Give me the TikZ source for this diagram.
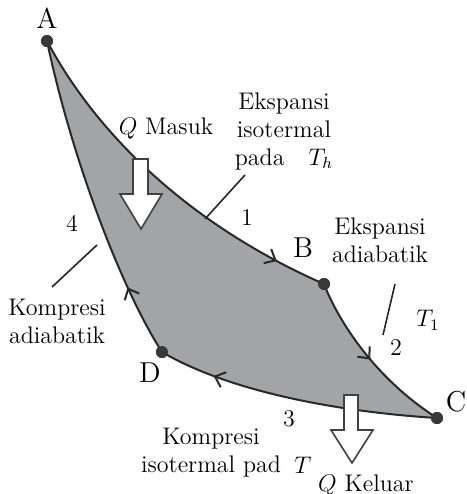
\documentclass[tikz,border=0pt]{standalone}
\usetikzlibrary{arrows.meta,decorations.markings}
\definecolor{ciclo}{RGB}{163,164,168}
\definecolor{borda}{RGB}{40,40,40}
\begin{document}
\begin{tikzpicture}[x=0.5pt,y=-0.5pt]
\tikzset{
    >={Straight Barb[length=4.5pt,width=8pt]},
    curva/.style={line width=1pt, borda},
    sentido/.style={postaction={decorate},
        decoration={markings, mark=at position #1 with {\arrow{>}}}},
    estado/.style={circle, fill=black!78, inner sep=0pt, minimum size=6pt},
    rotulo/.style={font=\large, inner sep=1pt},
    letra/.style={font=\Large, inner sep=1pt},
    indice/.style={font=\large, inner sep=1pt},
    guia/.style={-, line width=0.8pt, black!85},
    bloco/.style={draw=black!75, line width=0.8pt, fill=white, line join=miter}
}
\useasboundingbox (0,0) rectangle (467,494);
% Estados do ciclo
\node[estado] (A) at (47,41)   {};
\node[estado] (B) at (324,284) {};
\node[estado] (C) at (437,418) {};
\node[estado] (D) at (162,352) {};
% Area do ciclo
\fill[ciclo] (A.center) .. controls (97,135) and (190,225) .. (B.center)
    .. controls (336,315) and (370,375) .. (C.center)
    .. controls (340,412) and (230,392) .. (D.center)
    .. controls (122,290) and (72,160) .. (A.center) -- cycle;
% Processos 1-4
\draw[curva, sentido=0.86] (A.center) .. controls (97,135) and (190,225) .. (B.center);
\draw[curva, sentido=0.50] (B.center) .. controls (336,315) and (370,375) .. (C.center);
\draw[curva, sentido=0.80] (C.center) .. controls (340,412) and (230,392) .. (D.center);
\draw[curva, sentido=0.22] (D.center) .. controls (122,290) and (72,160) .. (A.center);
% Calor que entra e sai
\draw[bloco] (133,159) -- (148,159) -- (148,194) -- (162,194) -- (141,229)
    -- (120,194) -- (133,194) -- cycle;
\draw[bloco] (344,395) -- (358,395) -- (358,430) -- (373,430) -- (352,463)
    -- (331,430) -- (344,430) -- cycle;
\node[estado] at (A) {};
\node[estado] at (B) {};
\node[estado] at (C) {};
\node[estado] at (D) {};
% Letras e numeros
\node[letra] (lA) at (47,18)   {A};
\node[letra] (lB) at (303,248) {B};
\node[letra] (lC) at (456,402) {C};
\node[letra] (lD) at (150,373) {D};
\node[indice] (n1) at (247,218) {1};
\node[indice] (n2) at (396,348) {2};
\node[indice] (n3) at (289,419) {3};
\node[indice] (n4) at (72,223)  {4};
% Rotulos dos processos
\node[rotulo] (qin) at (166,128) {$Q$ Masuk};
\node[rotulo, align=center] (iso1) at (284,131)
    {Ekspansi\\isotermal\\pada\quad$T_h$};
\node[rotulo, align=center] (adi1) at (380,240) {Ekspansi\\adiabatik};
\node[rotulo] (t1) at (428,320) {$T_1$};
\node[rotulo, align=center] (adi2) at (57,321) {Kompresi\\adiabatik};
\node[rotulo, align=center] (iso2) at (211,453) {Kompresi\\isotermal pad};
\node[rotulo] (tc) at (303,465) {$T$};
\node[rotulo] (qout) at (366,485) {$Q$ Keluar};
% Linhas guia
\coordinate (g1a) at (245,175);
\coordinate (g1b) at (205,219);
\coordinate (g2a) at (395,284);
\coordinate (g2b) at (383,335);
\coordinate (g4a) at (97,245);
\coordinate (g4b) at (52,287);
\draw[guia] (g1a) -- (g1b);
\draw[guia] (g2a) -- (g2b);
\draw[guia] (g4a) -- (g4b);
\end{tikzpicture}
\end{document}
